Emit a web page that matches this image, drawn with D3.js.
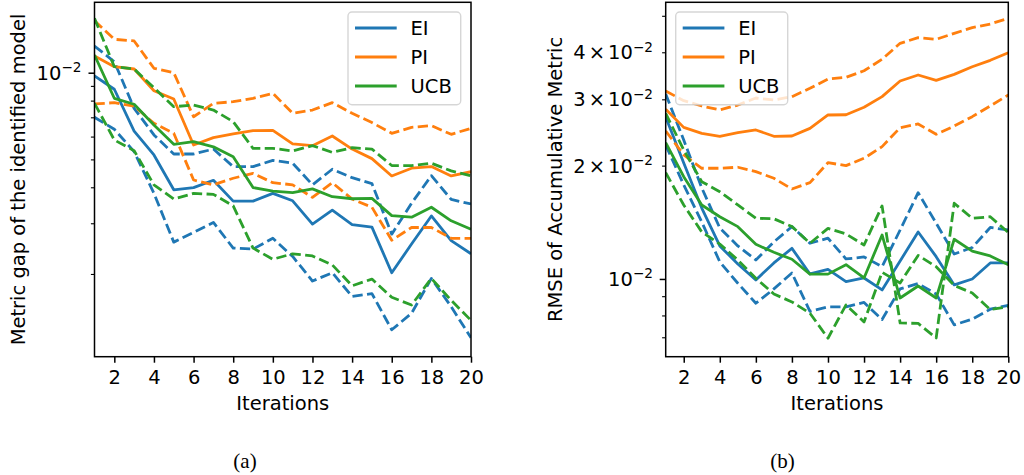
<!DOCTYPE html>
<html>
<head>
<meta charset="utf-8">
<script src="https://cdn.jsdelivr.net/npm/d3@7"></script>
<style>
  body { margin: 0; background: #fff; }
  text { font-family: "DejaVu Sans", sans-serif; }
</style>
</head>
<body>
<svg id="fig" width="1024" height="475"></svg>
<script>
// iterations (x categories)
const iterations = [1, 2, 3, 4, 5, 6, 7, 8, 9, 10, 11, 12, 13, 14, 15, 16, 17, 18, 19, 20];
const xTicks = [2, 4, 6, 8, 10, 12, 14, 16, 18, 20];

// (a) metric gap of the identified model: mean and dashed band per method
const gapEI    = [0.00974, 0.00876, 0.00627, 0.00518, 0.00392, 0.00399, 0.00423, 0.00358, 0.00358, 0.00381, 0.00359, 0.00298, 0.00333, 0.00297, 0.00291, 0.00202, 0.00254, 0.00318, 0.00261, 0.00235];
const gapEIUp  = [0.01238, 0.01092, 0.00752, 0.00608, 0.00522, 0.00522, 0.00543, 0.00472, 0.00472, 0.00496, 0.00485, 0.00408, 0.00462, 0.00432, 0.00412, 0.00275, 0.00352, 0.00439, 0.00363, 0.00350];
const gapEILo  = [0.00700, 0.00636, 0.00532, 0.00381, 0.00258, 0.00279, 0.00302, 0.00246, 0.00244, 0.00266, 0.00230, 0.00189, 0.00202, 0.00167, 0.00171, 0.00128, 0.00146, 0.00193, 0.00154, 0.00120];
const gapPI    = [0.01143, 0.01049, 0.01030, 0.00866, 0.00810, 0.00561, 0.00595, 0.00613, 0.00629, 0.00631, 0.00566, 0.00558, 0.00603, 0.00543, 0.00503, 0.00438, 0.00466, 0.00472, 0.00438, 0.00453];
const gapPIUp  = [0.01515, 0.01306, 0.01289, 0.01036, 0.01000, 0.00703, 0.00783, 0.00793, 0.00815, 0.00848, 0.00723, 0.00742, 0.00787, 0.00723, 0.00671, 0.00616, 0.00646, 0.00655, 0.00611, 0.00641];
const gapPILo  = [0.00779, 0.00787, 0.00766, 0.00667, 0.00616, 0.00424, 0.00408, 0.00430, 0.00447, 0.00415, 0.00408, 0.00369, 0.00415, 0.00364, 0.00341, 0.00262, 0.00290, 0.00290, 0.00266, 0.00266];
const gapUCB   = [0.01152, 0.00815, 0.00777, 0.00658, 0.00564, 0.00576, 0.00553, 0.00511, 0.00399, 0.00388, 0.00383, 0.00395, 0.00371, 0.00365, 0.00366, 0.00319, 0.00315, 0.00341, 0.00306, 0.00286];
const gapUCBUp = [0.01545, 0.01049, 0.01030, 0.00887, 0.00762, 0.00772, 0.00742, 0.00676, 0.00546, 0.00546, 0.00535, 0.00558, 0.00529, 0.00549, 0.00543, 0.00476, 0.00476, 0.00485, 0.00456, 0.00438];
const gapUCBLo = [0.00783, 0.00584, 0.00536, 0.00408, 0.00364, 0.00381, 0.00378, 0.00345, 0.00246, 0.00225, 0.00235, 0.00231, 0.00215, 0.00182, 0.00192, 0.00166, 0.00156, 0.00193, 0.00162, 0.00138];

// (b) RMSE of accumulative metric
const rmseEI    = [0.02693, 0.02032, 0.01543, 0.01224, 0.01096, 0.00994, 0.01103, 0.01206, 0.01031, 0.01060, 0.00984, 0.01006, 0.00935, 0.01116, 0.01333, 0.01146, 0.00964, 0.01000, 0.01103, 0.01103];
const rmseEIUp  = [0.03099, 0.02339, 0.01745, 0.01366, 0.01224, 0.01123, 0.01254, 0.01377, 0.01244, 0.01283, 0.01130, 0.01144, 0.01078, 0.01349, 0.01695, 0.01406, 0.01165, 0.01212, 0.01370, 0.01349];
const rmseEILo  = [0.02269, 0.01777, 0.01417, 0.01110, 0.00974, 0.00862, 0.00941, 0.01037, 0.00820, 0.00843, 0.00843, 0.00866, 0.00780, 0.00941, 0.00972, 0.00912, 0.00755, 0.00782, 0.00831, 0.00851];
const rmsePI    = [0.02822, 0.02527, 0.02437, 0.02393, 0.02446, 0.02487, 0.02393, 0.02397, 0.02512, 0.02726, 0.02730, 0.02857, 0.03049, 0.03356, 0.03481, 0.03370, 0.03495, 0.03662, 0.03808, 0.03990];
const rmsePIUp  = [0.03157, 0.02975, 0.02880, 0.02811, 0.02897, 0.03024, 0.02988, 0.03049, 0.03209, 0.03397, 0.03432, 0.03573, 0.03832, 0.04226, 0.04373, 0.04330, 0.04492, 0.04649, 0.04755, 0.04924];
const rmsePILo  = [0.02472, 0.02135, 0.01968, 0.01968, 0.01980, 0.01928, 0.01851, 0.01734, 0.01802, 0.02036, 0.02000, 0.02092, 0.02246, 0.02522, 0.02580, 0.02422, 0.02548, 0.02698, 0.02880, 0.03081];
const rmseUCB   = [0.02301, 0.01869, 0.01572, 0.01463, 0.01377, 0.01236, 0.01177, 0.01128, 0.01030, 0.01030, 0.01091, 0.01006, 0.01309, 0.00890, 0.00958, 0.00890, 0.01275, 0.01185, 0.01151, 0.01091];
const rmseUCBUp = [0.02754, 0.02200, 0.01813, 0.01705, 0.01572, 0.01449, 0.01445, 0.01378, 0.01244, 0.01362, 0.01317, 0.01231, 0.01563, 0.00764, 0.00762, 0.00697, 0.01589, 0.01449, 0.01463, 0.01329];
const rmseUCBLo = [0.01916, 0.01572, 0.01333, 0.01238, 0.01123, 0.01004, 0.00912, 0.00869, 0.00811, 0.00696, 0.00853, 0.00769, 0.01042, 0.00976, 0.01155, 0.01078, 0.00961, 0.00918, 0.00829, 0.00844];

const methods = ["EI", "PI", "UCB"];
const COLORS = { EI: "#1f77b4", PI: "#ff7f0e", UCB: "#2ca02c" };
const FONT = 19.5;

const svg = d3.select("#fig");

const panels = [
  {
    id: "a", left: 94.5, right: 471, top: 2.3, bottom: 356.7,
    yDomain: [0.001032, 0.01756],
    majors: [0.01], minors: [0.002, 0.003, 0.004, 0.005, 0.006, 0.007, 0.008, 0.009],
    labelled: [{ v: 0.01, m: null }], labelRight: 81.5,
    ylabel: "Metric gap of the identified model", ylabelX: 25,
    legend: { x: 348, w: 112.7 },
    caption: "(a)", captionX: 245,
    series: {
      EI: [gapEI, gapEIUp, gapEILo],
      PI: [gapPI, gapPIUp, gapPILo],
      UCB: [gapUCB, gapUCBUp, gapUCBLo]
    }
  },
  {
    id: "b", left: 665.7, right: 1008.3, top: 2.3, bottom: 356.7,
    yDomain: [0.006216, 0.0543],
    majors: [0.01], minors: [0.007, 0.008, 0.009, 0.02, 0.03, 0.04, 0.05],
    labelled: [{ v: 0.01, m: null }, { v: 0.02, m: "2" }, { v: 0.03, m: "3" }, { v: 0.04, m: "4" }],
    labelRight: 653,
    ylabel: "RMSE of Accumulative Metric", ylabelX: 561.7,
    legend: { x: 675.7, w: 112 },
    caption: "(b)", captionX: 782.5,
    series: {
      EI: [rmseEI, rmseEIUp, rmseEILo],
      PI: [rmsePI, rmsePIUp, rmsePILo],
      UCB: [rmseUCB, rmseUCBUp, rmseUCBLo]
    }
  }
];

function drawPanel(p) {
  const x = d3.scaleLinear().domain([1, 20]).range([p.left, p.right]);
  const y = d3.scaleLog().domain(p.yDomain).range([p.bottom, p.top]);

  const clipId = "clip-" + p.id;
  svg.append("clipPath").attr("id", clipId)
    .append("rect")
    .attr("x", p.left).attr("y", p.top)
    .attr("width", p.right - p.left).attr("height", p.bottom - p.top);

  const lineGen = d3.line()
    .x((d, i) => x(iterations[i]))
    .y(d => y(d));

  const plot = svg.append("g").attr("clip-path", `url(#${clipId})`);
  methods.forEach(m => {
    p.series[m].forEach((vals, k) => {
      plot.append("path")
        .datum(vals)
        .attr("fill", "none")
        .attr("stroke", COLORS[m])
        .attr("stroke-width", 2.8)
        .attr("stroke-linejoin", "round")
        .attr("stroke-dasharray", k === 0 ? null : "10.3,4.4")
        .attr("d", lineGen);
    });
  });

  // x axis
  const xAxisG = svg.append("g")
    .attr("transform", `translate(0,${p.bottom})`)
    .call(d3.axisBottom(x).tickValues(xTicks).tickSize(6).tickPadding(7.5));
  xAxisG.select(".domain").remove();
  xAxisG.selectAll("line").attr("stroke", "#000").attr("stroke-width", 1.5);
  xAxisG.selectAll("text")
    .attr("fill", "#000")
    .style("font-size", FONT + "px")
    .style("font-family", "DejaVu Sans");

  // y axis: major and minor ticks
  const yMajG = svg.append("g")
    .attr("transform", `translate(${p.left},0)`)
    .call(d3.axisLeft(y).tickValues(p.majors).tickSize(6).tickFormat(""));
  yMajG.select(".domain").remove();
  yMajG.selectAll("line").attr("stroke", "#000").attr("stroke-width", 1.5);

  const yMinG = svg.append("g")
    .attr("transform", `translate(${p.left},0)`)
    .call(d3.axisLeft(y).tickValues(p.minors).tickSize(3.6).tickFormat(""));
  yMinG.select(".domain").remove();
  yMinG.selectAll("line").attr("stroke", "#000").attr("stroke-width", 1.1);

  // y tick labels in mathtext style
  p.labelled.forEach(t => {
    const txt = svg.append("text")
      .attr("x", p.labelRight)
      .attr("y", y(t.v) + 7)
      .attr("text-anchor", "end")
      .attr("fill", "#000")
      .style("font-size", FONT + "px");
    if (t.m) {
      txt.append("tspan").text(t.m);
      txt.append("tspan").attr("dx", 3).text("\u00d7");
      txt.append("tspan").attr("dx", 3).text("10");
    } else {
      txt.append("tspan").text("10");
    }
    txt.append("tspan")
      .attr("dy", -7.5)
      .style("font-size", (FONT * 0.7) + "px")
      .text("\u22122");
  });

  // frame
  svg.append("rect")
    .attr("x", p.left).attr("y", p.top)
    .attr("width", p.right - p.left).attr("height", p.bottom - p.top)
    .attr("fill", "none").attr("stroke", "#000").attr("stroke-width", 1.5);

  // axis labels
  svg.append("text")
    .attr("x", (p.left + p.right) / 2).attr("y", 410)
    .attr("text-anchor", "middle")
    .style("font-size", FONT + "px")
    .text("Iterations");

  svg.append("text")
    .attr("transform", `translate(${p.ylabelX},${(p.top + p.bottom) / 2}) rotate(-90)`)
    .attr("text-anchor", "middle")
    .style("font-size", FONT + "px")
    .text(p.ylabel);

  // legend
  const lg = svg.append("g");
  lg.append("rect")
    .attr("x", p.legend.x).attr("y", 12)
    .attr("width", p.legend.w).attr("height", 92.7)
    .attr("rx", 4).attr("ry", 4)
    .attr("fill", "#fff").attr("fill-opacity", 0.8)
    .attr("stroke", "#cccccc").attr("stroke-opacity", 0.8).attr("stroke-width", 1.4);
  methods.forEach((m, i) => {
    const cy = 28 + i * 29;
    lg.append("line")
      .attr("x1", p.legend.x + 7).attr("x2", p.legend.x + 48.7)
      .attr("y1", cy).attr("y2", cy)
      .attr("stroke", COLORS[m]).attr("stroke-width", 2.8);
    lg.append("text")
      .attr("x", p.legend.x + 62.5).attr("y", cy + 7)
      .style("font-size", FONT + "px")
      .text(m);
  });

  // caption
  svg.append("text")
    .attr("x", p.captionX).attr("y", 468)
    .attr("text-anchor", "middle")
    .style("font-family", "'Liberation Serif', 'Times New Roman', serif")
    .style("font-size", "21px")
    .text(p.caption);
}

panels.forEach(drawPanel);
</script>
</body>
</html>
